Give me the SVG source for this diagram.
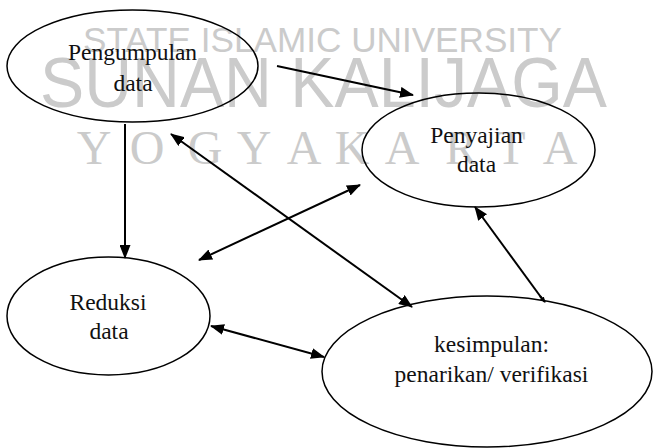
<svg xmlns="http://www.w3.org/2000/svg" width="654" height="448" viewBox="0 0 654 448">
<style>
.wm{fill:#cbcbcb;font-family:'Liberation Sans',Arial,sans-serif;}
.wms{fill:#cbcbcb;font-family:'Liberation Serif','Times New Roman',serif;}
.node ellipse{fill:none;stroke:#000;stroke-width:1.5;}
.lbl{font-family:'Liberation Serif','Times New Roman',serif;font-size:23.5px;fill:#111;text-anchor:middle;}
.conn{stroke:#000;stroke-width:2;fill:none;}
</style>
<defs>
<marker id="ah" viewBox="0 0 14 11" refX="13" refY="5.5" markerWidth="14" markerHeight="11" markerUnits="userSpaceOnUse" orient="auto-start-reverse">
<path d="M0,0 L14,5.5 L0,11 z" fill="#000"/>
</marker>
<marker id="ahs" viewBox="0 0 6 5" refX="5" refY="2.5" markerWidth="6" markerHeight="5" markerUnits="userSpaceOnUse" orient="auto">
<path d="M0,0 L6,2.5 L0,5 z" fill="#000"/>
</marker>
</defs>
<rect width="654" height="448" fill="#fff"/>
<g id="watermark">
<text class="wm" x="83" y="52" font-size="35" textLength="479" lengthAdjust="spacingAndGlyphs">STATE ISLAMIC UNIVERSITY</text>
<text class="wm" x="40" y="107" font-size="70" textLength="567" lengthAdjust="spacingAndGlyphs">SUNAN KALIJAGA</text>
<text class="wms" x="94 147 205 254 304 352 402 461 511 560" y="164" font-size="48" text-anchor="middle">YOGYAKARTA</text>
</g>
<g id="pengumpulan" class="node">
<ellipse cx="132.5" cy="66" rx="125.5" ry="56"/>
<text class="lbl" x="132.5" y="60">Pengumpulan</text>
<text class="lbl" x="133" y="91">data</text>
</g>
<g id="penyajian" class="node">
<ellipse cx="478.5" cy="150" rx="116.5" ry="57"/>
<text class="lbl" x="476.5" y="143">Penyajian</text>
<text class="lbl" x="476.5" y="172">data</text>
</g>
<g id="reduksi" class="node">
<ellipse cx="108.5" cy="316" rx="101.5" ry="59"/>
<text class="lbl" x="108" y="310">Reduksi</text>
<text class="lbl" x="109" y="339">data</text>
</g>
<g id="kesimpulan" class="node">
<ellipse cx="487" cy="371.5" rx="165" ry="75.5"/>
<text class="lbl" x="491.5" y="352">kesimpulan:</text>
<text class="lbl" x="491.5" y="382">penarikan/ verifikasi</text>
</g>
<g id="connectors">
<line class="conn" x1="277" y1="66" x2="413" y2="95" marker-end="url(#ah)"/>
<line class="conn" x1="125" y1="124" x2="125" y2="258" marker-end="url(#ah)"/>
<line class="conn" x1="171" y1="134" x2="412" y2="307" marker-start="url(#ah)" marker-end="url(#ah)"/>
<line class="conn" x1="199" y1="260" x2="360" y2="185" marker-start="url(#ah)" marker-end="url(#ah)"/>
<line class="conn" x1="211" y1="326" x2="324" y2="357" marker-start="url(#ah)" marker-end="url(#ah)"/>
<line class="conn" x1="543" y1="300" x2="475" y2="207" marker-end="url(#ah)"/>
<line class="conn" x1="540" y1="296" x2="545" y2="302" stroke-width="0" marker-end="url(#ahs)"/>
</g>
</svg>
